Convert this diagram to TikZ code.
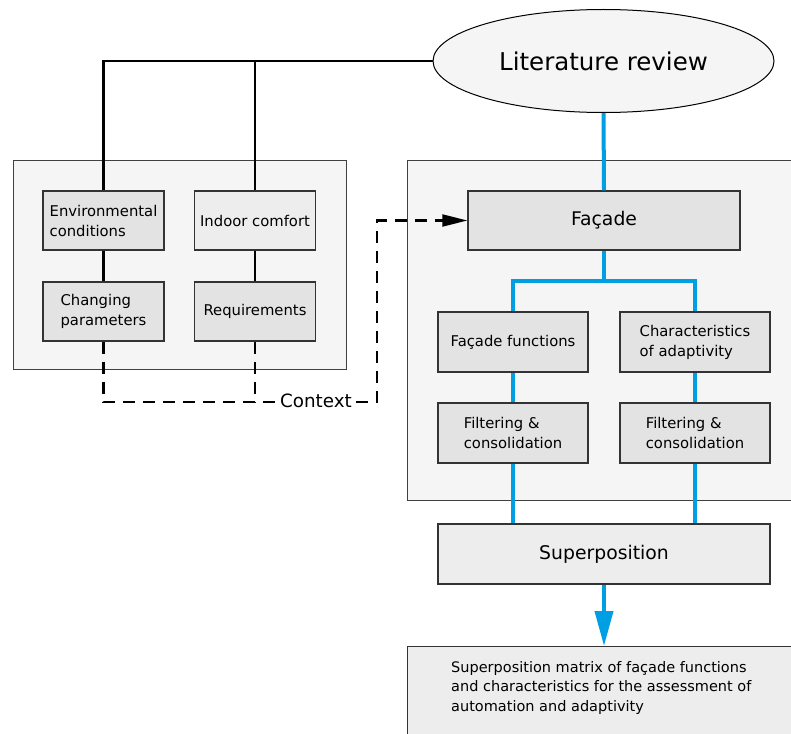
\documentclass[tikz,border=0pt]{standalone}
\usepackage{fontspec}
\setmainfont{DejaVu Sans}
\usetikzlibrary{shapes.geometric,arrows.meta}
\definecolor{boxA}{HTML}{E3E3E3}
\definecolor{boxB}{HTML}{EDEDED}
\definecolor{cont}{HTML}{F5F5F5}
\definecolor{bluel}{HTML}{009FE3}
\tikzset{
  container/.style={draw=black!75,line width=1pt,fill=cont},
  sbox/.style={draw=black!80,line width=1.4pt,fill=boxA,inner sep=0pt,
    minimum width=121pt,minimum height=59pt,align=left,
    font=\fontsize{14.8}{20}\selectfont},
  fbox/.style={sbox,minimum width=150pt,minimum height=60pt},
  blk/.style={line width=2.1pt,black},
  blu/.style={line width=4pt,bluel},
  dsh/.style={line width=2.1pt,black,dash pattern=on 12pt off 8pt},
}
\begin{document}
\begin{tikzpicture}[x=1pt,y=-1pt]
\useasboundingbox (0,0) rectangle (791,733);
\clip (0,0) rectangle (791,733);
% containers
\path[container] (13,160) rectangle (346,369);
\path[container] (407,160) rectangle (820,500);
% ellipse
\node[ellipse,draw=black,line width=1pt,fill=cont,minimum width=341pt,minimum height=103pt,inner sep=0pt,
  font=\fontsize{24.5}{28}\selectfont] (lit) at (603.5,61) {Literature review};
% left boxes
\node[sbox] (env) at (103.5,220.5) {Environmental\\conditions};
\node[sbox,fill=boxB] (ic) at (255,220.5) {Indoor comfort};
\node[sbox] (cp) at (103.5,311.5) {Changing\\parameters};
\node[sbox] (req) at (255,311.5) {Requirements};
% right boxes
\node[sbox,minimum width=272pt,minimum height=59pt,font=\fontsize{18.8}{22}\selectfont] (fac) at (604,220.5) {Façade};
\node[fbox] (ff) at (513,342) {Façade functions};
\node[fbox] (ca) at (695,342) {Characteristics\\of adaptivity};
\node[fbox] (fl) at (513,433) {Filtering \&\\consolidation};
\node[fbox] (fr) at (695,433) {Filtering \&\\consolidation};
\node[sbox,fill=boxB,minimum width=332pt,minimum height=60pt,font=\fontsize{18.8}{22}\selectfont] (sup) at (604,554) {Superposition};
\node[draw=black!80,line width=1.4pt,fill=boxB,minimum width=420pt,minimum height=130pt,anchor=north west,inner sep=0pt] (mat) at (407,646) {};
\node[anchor=north west,align=left,inner sep=0pt,font=\fontsize{14.5}{19.5}\selectfont] (mattext) at (451,661)
  {Superposition matrix of façade functions\\and characteristics for the assessment of\\automation and adaptivity};
% black connectors
\draw[blk] (lit.west) -| (env.north);
\draw[blk] (ic.north) -- (ic.north |- lit.west);
\draw[blk] (env.south) -- (cp.north);
\draw[blk] (ic.south) -- (req.north);
% dashed context
\coordinate (dl) at (103.5,402);
\coordinate (dr) at (377,402);
\coordinate (du) at (377,220.5);
\node[font=\fontsize{18.3}{22}\selectfont,inner sep=4pt] (ctx) at (316,401) {Context};
\draw[dsh] (cp.south) -- (dl) -- (ctx.west |- dl);
\draw[dsh] (req.south) -- (req.south |- dl);
\draw[dsh,-{Triangle[length=25pt,width=12pt]}] (ctx.east |- dr) -- (dr) -- (du) -- (fac.west);
% blue connectors
\draw[blu] (lit.south) -- (fac.north);
\coordinate (br) at (604,281);
\draw[blu] (fac.south) -- (br);
\draw[blu] (ff.north) |- (br) -| (ca.north);
\draw[blu] (ff.south) -- (fl.north);
\draw[blu] (ca.south) -- (fr.north);
\draw[blu] (fl.south) -- (fl.south |- sup.north);
\draw[blu] (fr.south) -- (fr.south |- sup.north);
\draw[blu,-{Triangle[length=35pt,width=18pt]}] (sup.south) -- (mat.north -| sup.south);
\end{tikzpicture}
\end{document}
